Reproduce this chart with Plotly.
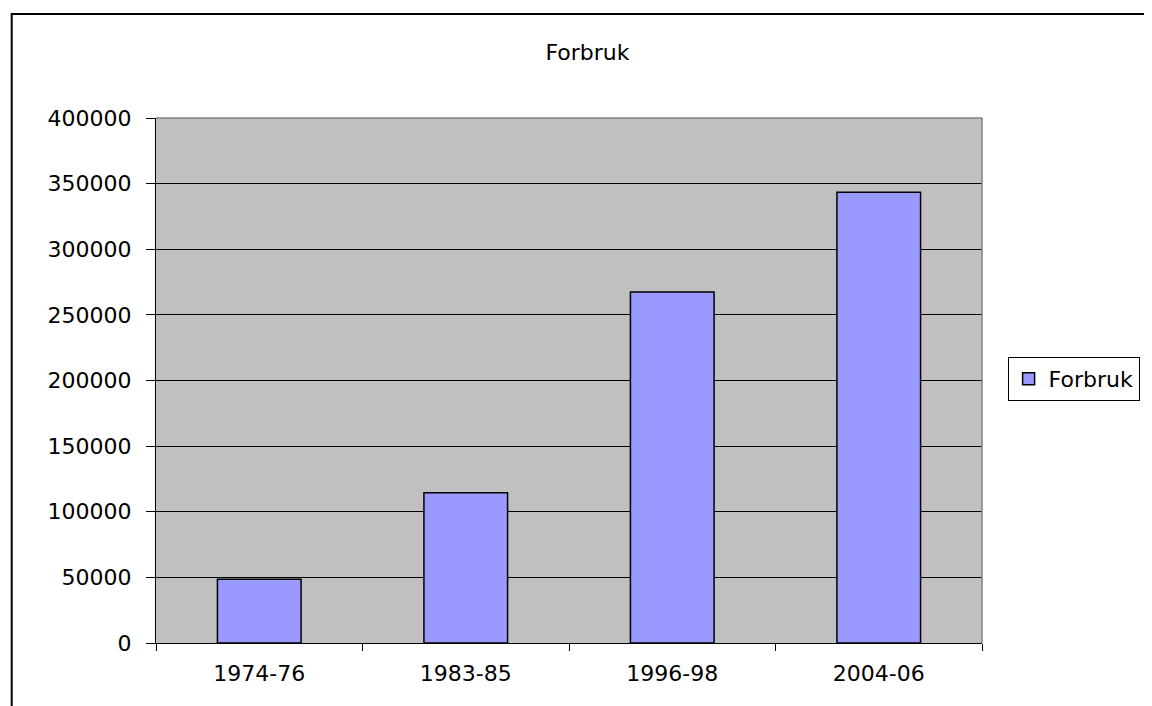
import plotly.graph_objects as go

periods = ["1974-76", "1983-85", "1996-98", "2004-06"]
forbruk = [48500, 114500, 267500, 343500]
y_ticks = [0, 50000, 100000, 150000, 200000, 250000, 300000, 350000, 400000]

font = "DejaVu Sans, Arial, sans-serif"

# page body has an 8px margin, so the figure is 8px smaller and shifted
W, H = 1144, 698

fig = go.Figure()
fig.add_trace(go.Bar(
    x=periods, y=forbruk, name="Forbruk",
    marker=dict(color="#9999FF", line=dict(color="black", width=1.5)),
))

fig.update_layout(
    width=W, height=H,
    margin=dict(l=148, r=W - 148 - 830, t=110, b=H - 110 - 525),
    paper_bgcolor="white",
    plot_bgcolor="#C0C0C0",
    bargap=0.595,
    font=dict(family=font, size=22, color="black"),
    title=dict(text="Forbruk", x=(587.5 - 8) / W, xref="container", xanchor="center",
               y=1 - (52 - 8) / H, yref="container", yanchor="middle",
               font=dict(family=font, size=22, color="black")),
    showlegend=True,
    legend=dict(x=1.031, y=0.503, xanchor="left", yanchor="middle",
                bordercolor="black", borderwidth=1, bgcolor="white",
                font=dict(family=font, size=22)),
    xaxis=dict(
        type="category", range=[-0.5, 3.5],
        showline=True, linecolor="black", linewidth=1,
        ticks="outside", tickson="boundaries", ticklen=7, tickcolor="black",
        showgrid=False, ticklabelstandoff=11,
    ),
    yaxis=dict(
        range=[0, 400000], tickvals=y_ticks, tickformat="d",
        showline=True, linecolor="black", linewidth=1,
        ticks="outside", ticklen=9, tickcolor="black",
        showgrid=True, gridcolor="black", gridwidth=1, zeroline=False,
        ticklabelstandoff=10,
    ),
    shapes=[
        # grey plot-area frame on top and right
        dict(type="line", xref="paper", yref="paper", x0=0, x1=1, y0=1, y1=1,
             line=dict(color="#808080", width=1.5)),
        dict(type="line", xref="paper", yref="paper", x0=1, x1=1, y0=0, y1=1,
             line=dict(color="#808080", width=1.5)),
        # chart-area border (cropped at right and bottom)
        dict(type="rect", xref="paper", yref="paper",
             x0=(11 - 156) / 830, x1=(1170 - 156) / 830,
             y0=(643 - 730) / 525, y1=(643 - 14) / 525,
             line=dict(color="black", width=2)),
    ],
)

fig.write_html("out.html")
